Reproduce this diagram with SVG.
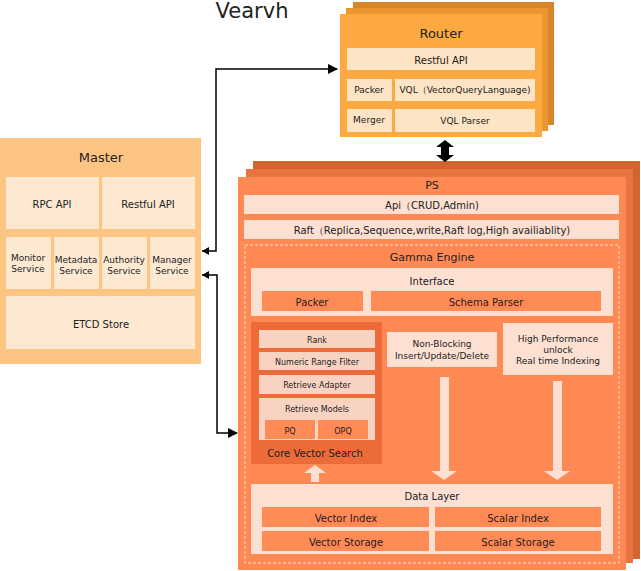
<svg xmlns="http://www.w3.org/2000/svg" width="641" height="571" viewBox="0 0 641 571">
<style>
text{font-family:"DejaVu Sans",Verdana,sans-serif;fill:#222;text-anchor:middle;dominant-baseline:central}
.rl{fill:#fde4c4}.ml{fill:#fde9d2}.pl{fill:#fde0d2}.pd{fill:#fe8a55}.cl{fill:#f9d3c1}
.s9{font-size:9px}.s10{font-size:10px}.s11{font-size:11px}.s13{font-size:13px}
</style>
<defs>
<marker id="ah" viewBox="0 0 10 10" refX="9" refY="5" markerWidth="7" markerHeight="7" orient="auto"><path d="M0,0L10,5L0,10z" fill="#000"/></marker>
</defs>
<text x="252" y="11" style="font-size:21px">Vearvh</text>
<g id="router">
<rect x="353" y="2" width="201" height="123" fill="#d9862a"/>
<rect x="346" y="8" width="202" height="123" fill="#ec9630"/>
<rect x="340" y="14" width="202" height="123" fill="#fda942"/>
<text x="441" y="33" class="s13">Router</text>
<rect class="rl" x="347" y="48" width="188" height="22"/><text x="441" y="60" class="s10">Restful API</text>
<rect class="rl" x="347" y="79" width="45" height="22"/><text x="369" y="90" class="s9">Packer</text>
<rect class="rl" x="395" y="79" width="140" height="22"/><text x="465" y="90" class="s9">VQL（VectorQueryLanguage)</text>
<rect class="rl" x="347" y="109" width="45" height="23"/><text x="369" y="120" class="s9">Merger</text>
<rect class="rl" x="395" y="109" width="140" height="23"/><text x="465" y="121" class="s9">VQL Parser</text>
</g>
<g id="master">
<rect x="0" y="138" width="201" height="226" fill="#fdc582"/>
<text x="101" y="157" class="s13">Master</text>
<rect class="ml" x="6" y="177" width="93" height="52"/><text x="52" y="204" class="s10">RPC API</text>
<rect class="ml" x="102" y="177" width="93" height="52"/><text x="148" y="204" class="s10">Restful API</text>
<rect class="ml" x="6" y="237" width="45" height="52"/><text x="28" y="258" class="s9">Monitor</text><text x="28" y="269" class="s9">Service</text>
<rect class="ml" x="54" y="237" width="45" height="52"/><text x="76" y="260" class="s9">Metadata</text><text x="76" y="271" class="s9">Service</text>
<rect class="ml" x="102" y="237" width="45" height="52"/><text x="124" y="260" class="s9">Authority</text><text x="124" y="271" class="s9">Service</text>
<rect class="ml" x="150" y="237" width="45" height="52"/><text x="172" y="260" class="s9">Manager</text><text x="172" y="271" class="s9">Service</text>
<rect class="ml" x="6" y="296" width="189" height="53"/><text x="101" y="324" class="s10">ETCD Store</text>
</g>
<g id="ps">
<rect x="253" y="161" width="387" height="398" fill="#d2642f"/>
<rect x="246" y="169" width="387" height="394" fill="#e8743f"/>
<rect x="238" y="177" width="388" height="393" fill="#fe8955"/>
<text x="432" y="185" class="s11">PS</text>
<rect class="pl" x="244" y="195" width="375" height="19"/><text x="432" y="205" class="s10">Api（CRUD,Admin)</text>
<rect class="pl" x="244" y="220" width="375" height="19"/><text x="432" y="230" class="s10">Raft（Replica,Sequence,write,Raft log,High availiablity)</text>
<rect x="245" y="245" width="374" height="318" fill="none" stroke="#fde0d2" stroke-dasharray="3,2"/>
<text x="432" y="257" class="s11">Gamma Engine</text>
</g>
<g id="interface">
<rect class="pl" x="251" y="268" width="362" height="48"/><text x="432" y="281" class="s10">Interface</text>
<rect class="pd" x="262" y="291" width="101" height="20"/><text x="312" y="302" class="s10">Packer</text>
<rect class="pd" x="371" y="291" width="230" height="20"/><text x="486" y="302" class="s10">Schema Parser</text>
</g>
<g id="core">
<rect x="251" y="322" width="131" height="142" fill="#ed6b38"/>
<rect class="cl" x="259" y="330" width="116" height="18"/><text x="317" y="340" class="s9" style="font-size:8px">Rank</text>
<rect class="cl" x="259" y="352" width="116" height="18"/><text x="317" y="362" style="font-size:8px">Numeric Range Filter</text>
<rect class="cl" x="259" y="375" width="116" height="19"/><text x="317" y="385" style="font-size:8px">Retrieve Adapter</text>
<rect class="cl" x="259" y="398" width="116" height="42"/><text x="317" y="409" style="font-size:8px">Retrieve Models</text>
<rect class="pd" x="265" y="420" width="50" height="19"/><text x="290" y="431" style="font-size:8px">PQ</text>
<rect class="pd" x="318" y="420" width="50" height="19"/><text x="343" y="431" style="font-size:8px">OPQ</text>
<text x="315" y="453" class="s10">Core Vector Search</text>
</g>
<g id="nonblocking">
<rect class="pl" x="387" y="332" width="110" height="35"/><text x="442" y="344" class="s9">Non-Blocking</text><text x="442" y="356" class="s9">Insert/Update/Delete</text>
</g>
<g id="highperf">
<rect class="pl" x="503" y="323" width="110" height="52"/><text x="558" y="339" class="s9">High Performance</text><text x="558" y="350" class="s9">unlock</text><text x="558" y="361" class="s9">Real  time Indexing</text>
</g>
<g id="datalayer">
<rect class="pl" x="251" y="484" width="362" height="70"/><text x="432" y="496" class="s10">Data Layer</text>
<rect class="pd" x="262" y="507" width="167" height="20"/><text x="346" y="518" class="s10">Vector Index</text>
<rect class="pd" x="435" y="507" width="166" height="20"/><text x="518" y="518" class="s10">Scalar Index</text>
<rect class="pd" x="262" y="531" width="167" height="20"/><text x="346" y="542" class="s10">Vector Storage</text>
<rect class="pd" x="435" y="531" width="166" height="20"/><text x="518" y="542" class="s10">Scalar Storage</text>
</g>
<g id="connectors">
<path d="M440,377h9v94h8l-13,9l-13,-9h9z" fill="#fde0d2"/>
<path d="M553,381h9v90h8l-13,9l-13,-9h9z" fill="#fde0d2"/>
<path d="M311,482v-9h-7l11,-8l11,8h-7v9z" fill="#fde0d2"/>
<path d="M441,147h8v8h5l-9,7l-9,-7h5v-8h-5l9,-7l9,7z" fill="#000"/>
<path d="M202,251H216V69H337" fill="none" stroke="#000" stroke-width="1.5" marker-start="url(#ah2)" marker-end="url(#ah)"/>
<path d="M202,275H217V433H237" fill="none" stroke="#000" stroke-width="1.5" marker-end="url(#ah)"/>
<path d="M202,251l7,-4v8z M202,275l7,-4v8z" fill="#000"/>
</g>
</svg>
